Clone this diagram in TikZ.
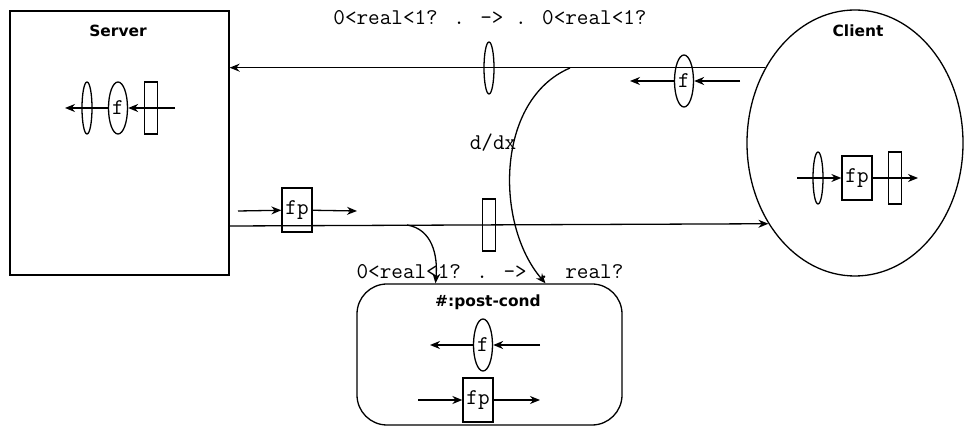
\documentclass[tikz,border=0pt]{standalone}
\usepackage{fontspec}
\newfontfamily\headfont{DejaVu Sans}
\usepackage{tikz}
\usetikzlibrary{arrows.meta, positioning, shapes.geometric}

\begin{document}
\begin{tikzpicture}[x=1bp, y=-1bp, line width=1.3bp,
    lens/.style={draw, ellipse, minimum width=10bp, minimum height=52bp, inner sep=0pt},
    fnode/.style={draw, ellipse, minimum width=19bp, minimum height=52bp, inner sep=0pt, font=\ttfamily\fontsize{22.6}{23}\selectfont},
    fpbox/.style={draw, rectangle, minimum width=30bp, minimum height=44bp, inner sep=0pt, font=\ttfamily\fontsize{22.6}{23}\selectfont},
    bar/.style={draw, rectangle, minimum width=13bp, minimum height=52bp, inner sep=0pt},
    title/.style={font=\headfont\bfseries\fontsize{15.5}{16}\selectfont},
    ctc/.style={font=\ttfamily\fontsize{22.6}{23}\selectfont},
    flow/.style={-{Stealth[length=10bp, width=8bp]}}]
    \useasboundingbox (0,0) rectangle (964,434);

    % Server
    \node[draw, minimum width=219bp, minimum height=264bp, inner sep=0pt] (server) at (119.5,143) {};
    \node[title] (servername) at (118,31) {Server};
    \node[lens] (slens) at (87,108) {};
    \node[fnode] (sf) at (118,108) {f};
    \node[bar] (sbar) at (151,108) {};
    \coordinate (sin) at (175,108);
    \coordinate (sout) at (65,108);
    \draw[flow] (sin) -- (sf);
    \draw[flow] (sf) -- (sout);

    % Client
    \node[draw, ellipse, minimum width=216bp, minimum height=266bp, inner sep=0pt] (client) at (855,143) {};
    \node[title] (clientname) at (858,31) {Client};
    \node[lens] (clens) at (818,178) {};
    \node[fpbox] (cfp) at (857,178) {fp};
    \node[bar] (cbar) at (895,178) {};
    \coordinate (cin) at (797,178);
    \coordinate (cout) at (918,178);
    \draw[flow] (cin) -- (cfp);
    \draw[flow] (cfp) -- (cout);

    % Post-condition
    \node[draw, rounded corners=30bp, minimum width=265bp, minimum height=141bp, inner sep=0pt] (post) at (489.5,354.5) {};
    \node[title] (postname) at (488,302) {\#:post-cond};
    \node[fnode] (pf) at (483,345) {f};
    \coordinate (pfin) at (540,345);
    \coordinate (pfout) at (430,345);
    \draw[flow] (pfin) -- (pf);
    \draw[flow] (pf) -- (pfout);
    \node[fpbox] (pfp) at (478,400) {fp};
    \coordinate (pfpin) at (418,400);
    \coordinate (pfpout) at (540,400);
    \draw[flow] (pfpin) -- (pfp);
    \draw[flow] (pfp) -- (pfpout);

    % Top channel: client to server
    \draw[flow] (client.140) -- (client.140 -| server.east);
    \node[lens] (tlens) at (489,68) {};
    \node[ctc] (tlabel) at (490,18) {0<real<1? . -> . 0<real<1?};
    \node[fnode] (tf) at (684,81) {f};
    \coordinate (tfin) at (740,81);
    \coordinate (tfout) at (630,81);
    \draw[flow] (tfin) -- (tf);
    \draw[flow] (tf) -- (tfout);

    % Bottom channel: server to client
    \draw[flow] ([yshift=-83bp]server.east) -- (client.223);
    \node[bar] (bbar) at (489,225) {};
    \node[fpbox] (bfp) at (297,210) {fp};
    \coordinate (bfin) at (238,211);
    \coordinate (bfout) at (357,211);
    \draw[flow] (bfin) -- (bfp);
    \draw[flow] (bfp) -- (bfout);

    % Links into the post-condition
    \node[ctc] (plabel) at (490,272) {0<real<1? . -> . real?};
    \node[ctc] (ddx) at (493,143) {d/dx};
    \coordinate (ttap) at (570,68);
    \coordinate (btap) at (407,225);
    \draw[flow] (ttap) .. controls (495,100) and (495,225) .. ([xshift=56bp]post.north);
    \draw[flow] (btap) .. controls (432,229) and (438,255) .. ([xshift=-54bp]post.north);

\end{tikzpicture}
\end{document}
